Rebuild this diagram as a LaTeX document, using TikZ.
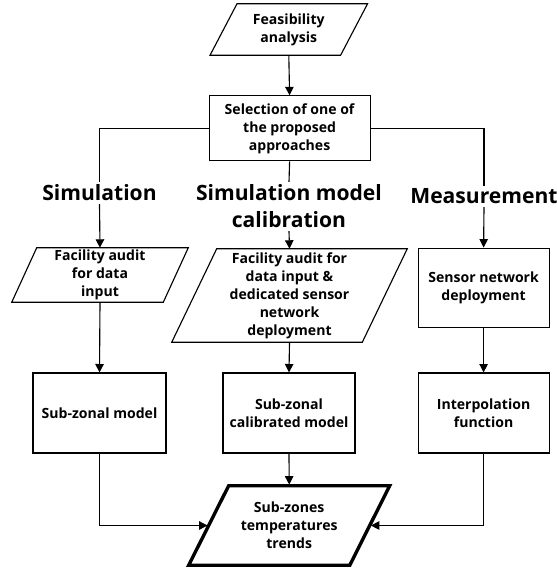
\documentclass[tikz,border=0pt]{standalone}
\usepackage{fontspec}
\setmainfont{Open Sans}
\usepackage{tikz}
\usetikzlibrary{arrows.meta,positioning,calc}

\begin{document}
\begin{tikzpicture}[
  stepbox/.style={draw, line width=0.8pt, align=center, font=\bfseries\fontsize{10}{12.8}\selectfont, inner sep=2pt},
  iobox/.style={align=center, font=\bfseries\fontsize{10}{12.8}\selectfont, inner sep=1pt},
  branch/.style={align=center, font=\bfseries\fontsize{15}{19.2}\selectfont, inner sep=2pt},
  link/.style={line width=0.8pt},
  flow/.style={-{Triangle[length=6pt,width=6pt]}, line width=0.8pt}
]
\useasboundingbox (0,0) rectangle (13.9,-14.225);

\node[iobox, minimum width=3.25cm, minimum height=1.275cm] (feas) at (7.22,-0.7375) {Feasibility\\analysis};
\node[stepbox, minimum width=4.025cm, minimum height=1.625cm] (sel) at (7.24,-3.21) {Selection of one of\\the proposed\\approaches};

\node[branch] (tsim) at (2.4875,-4.825) {Simulation};
\node[branch] (tcal) at (7.225,-5.1625) {Simulation model\\calibration};
\node[branch] (tmeas) at (12.1,-4.9125) {Measurement};

\node[iobox, minimum width=3.775cm, minimum height=1.35cm] (audit) at (2.5,-6.875) {Facility audit\\for data\\input};
\node[iobox, minimum width=4.75cm, minimum height=2.325cm] (auditsens) at (7.2375,-7.3875) {Facility audit for\\data input \&\\dedicated sensor\\network\\deployment};
\node[stepbox, minimum width=3.275cm, minimum height=1.975cm] (sensor) at (12.09,-7.19) {Sensor network\\deployment};

\node[stepbox, minimum width=3.325cm, minimum height=2cm] (subzonal) at (2.4875,-10.325) {Sub-zonal model};
\node[stepbox, minimum width=3.3cm, minimum height=2cm] (calib) at (7.225,-10.325) {Sub-zonal\\calibrated model};
\node[stepbox, minimum width=3.275cm, minimum height=2cm] (interp) at (12.09,-10.325) {Interpolation\\function};

\node[iobox, minimum width=4.0125cm, minimum height=1.975cm] (trends) at (7.23,-13.1375) {Sub-zones\\temperatures\\trends};

% slanted outlines of the input/output boxes
\foreach \n/\s/\w in {feas/0.3375/0.8pt, audit/0.3125/0.8pt, auditsens/0.5625/0.8pt, trends/0.5/2.4pt}
  \draw[line width=\w, line join=miter] ($(\n.south west)+(-\s,0)$) -- ($(\n.south east)+(-\s,0)$)
    -- ($(\n.north east)+(\s,0)$) -- ($(\n.north west)+(\s,0)$) -- cycle;

\draw[flow] (feas.south) -- (sel.north);
\draw[link] (sel.west) -| (tsim.north);
\draw[link] (sel.south) -- (tcal.north);
\draw[link] (sel.east) -| (tmeas.north);
\draw[flow] (tsim.south) -- (audit.north);
\draw[flow] (tcal.south) -- (auditsens.north);
\draw[flow] (tmeas.south) -- (sensor.north);
\draw[flow] (audit.south) -- (subzonal.north);
\draw[flow] (auditsens.south) -- (calib.north);
\draw[flow] (sensor.south) -- (interp.north);
\draw[flow, shorten >=0.8pt] (subzonal.south) |- (trends.west);
\draw[flow, shorten >=0.8pt] (calib.south) -- (trends.north);
\draw[flow, shorten >=0.8pt] (interp.south) |- (trends.east);

\end{tikzpicture}
\end{document}
